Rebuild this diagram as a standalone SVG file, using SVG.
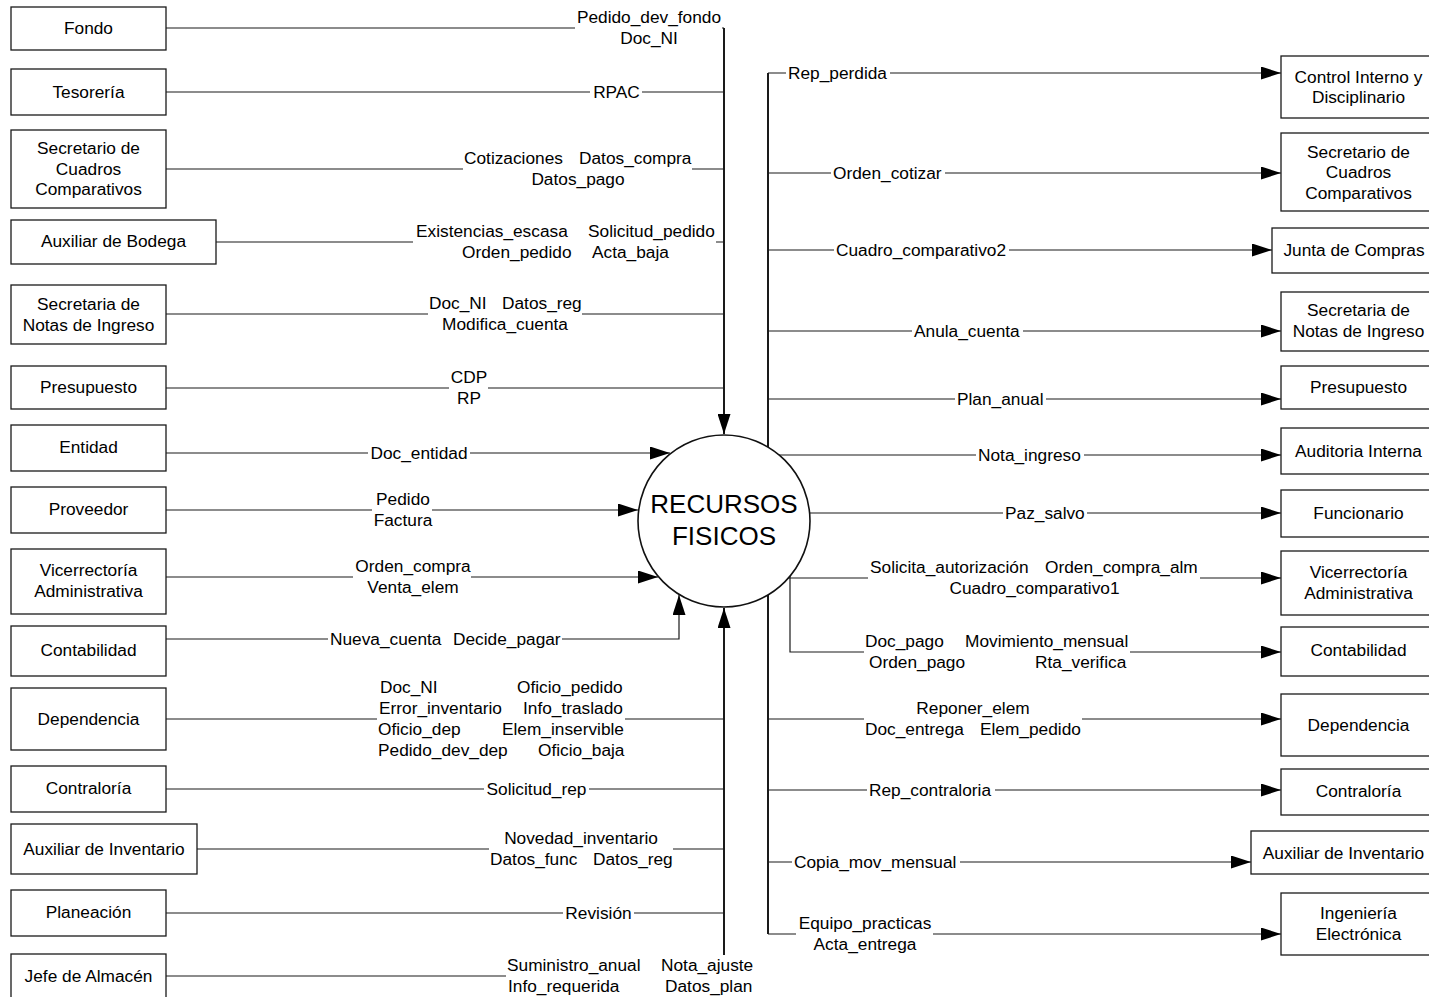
<svg xmlns="http://www.w3.org/2000/svg" width="1429" height="997" viewBox="0 0 1429 997">
<style>
.box{fill:#fff;stroke:#1a1a1a;stroke-width:1.3}
.proc{fill:#fff;stroke:#111;stroke-width:1.6}
.t{font-family:"Liberation Sans",Arial,Helvetica,sans-serif;font-size:17.3px;fill:#000}
.big{font-size:26px}
.m{text-anchor:middle}
.ln{fill:none;stroke:#1a1a1a;stroke-width:1.2}
.bus{stroke-width:2}
.bg{fill:#fff}
</style>
<defs>
<marker id="ah" markerUnits="userSpaceOnUse" markerWidth="20" markerHeight="13" refX="20" refY="6.5" orient="auto">
<path d="M0,0L20,6.5L0,13z" fill="#000"/>
</marker>
</defs>
<rect width="1429" height="997" fill="#fff"/>

<g id="connectors">
<!-- incoming flows, left side -->
<path class="ln" d="M166,28H724"/>
<path class="ln bus" d="M724,28V434" marker-end="url(#ah)"/>
<path class="ln" d="M166,92H724"/>
<path class="ln" d="M166,169H724"/>
<path class="ln" d="M216,242H724"/>
<path class="ln" d="M166,314H724"/>
<path class="ln" d="M166,388H724"/>
<path class="ln" d="M166,453H670" marker-end="url(#ah)"/>
<path class="ln" d="M166,510H638" marker-end="url(#ah)"/>
<path class="ln" d="M166,577H658" marker-end="url(#ah)"/>
<path class="ln" d="M166,639H679V595" marker-end="url(#ah)"/>
<path class="ln" d="M166,719H724"/>
<path class="ln" d="M166,789H724"/>
<path class="ln" d="M197,849H724"/>
<path class="ln" d="M166,913H724"/>
<path class="ln" d="M166,976H724"/>
<path class="ln bus" d="M724,976V608" marker-end="url(#ah)"/>

<!-- outgoing flows, right side -->
<path class="ln bus" d="M768,73V934"/>
<path class="ln" d="M768,73H1281" marker-end="url(#ah)"/>
<path class="ln" d="M768,173H1281" marker-end="url(#ah)"/>
<path class="ln" d="M768,250H1272" marker-end="url(#ah)"/>
<path class="ln" d="M768,331H1281" marker-end="url(#ah)"/>
<path class="ln" d="M768,399H1281" marker-end="url(#ah)"/>
<path class="ln" d="M768,455H1281" marker-end="url(#ah)"/>
<path class="ln" d="M768,513H1281" marker-end="url(#ah)"/>
<path class="ln" d="M780,578H1281" marker-end="url(#ah)"/>
<path class="ln" d="M790,570V652H1281" marker-end="url(#ah)"/>
<path class="ln" d="M768,719H1281" marker-end="url(#ah)"/>
<path class="ln" d="M768,790H1281" marker-end="url(#ah)"/>
<path class="ln" d="M768,862H1251" marker-end="url(#ah)"/>
<path class="ln" d="M768,934H1281" marker-end="url(#ah)"/>

<!-- flow labels, left side -->
<g class="t">
<rect class="bg" x="575" y="7" width="147" height="42"/>
<text class="m" x="649" y="23">Pedido_dev_fondo</text>
<text class="m" x="649" y="44">Doc_NI</text>

<rect class="bg" x="590" y="83" width="52" height="18"/>
<text class="m" x="616.5" y="98">RPAC</text>

<rect class="bg" x="463" y="149" width="229" height="42"/>
<text x="464" y="164">Cotizaciones</text>
<text x="579" y="164">Datos_compra</text>
<text class="m" x="578" y="185">Datos_pago</text>

<rect class="bg" x="413" y="222" width="303" height="41"/>
<text x="416" y="237">Existencias_escasa</text>
<text x="588" y="237">Solicitud_pedido</text>
<text x="462" y="258">Orden_pedido</text>
<text x="592" y="258">Acta_baja</text>

<rect class="bg" x="428" y="294" width="154" height="42"/>
<text x="429" y="309">Doc_NI</text>
<text x="502" y="309">Datos_reg</text>
<text class="m" x="505" y="330">Modifica_cuenta</text>

<rect class="bg" x="449" y="368" width="39" height="41"/>
<text class="m" x="469" y="383">CDP</text>
<text class="m" x="469" y="404">RP</text>

<rect class="bg" x="368" y="444" width="102" height="18"/>
<text class="m" x="419" y="459">Doc_entidad</text>

<rect class="bg" x="372" y="490" width="60" height="41"/>
<text class="m" x="403" y="505">Pedido</text>
<text class="m" x="403" y="526">Factura</text>

<rect class="bg" x="353" y="557" width="118" height="41"/>
<text class="m" x="413" y="572">Orden_compra</text>
<text class="m" x="413" y="593">Venta_elem</text>

<rect class="bg" x="328" y="630" width="234" height="18"/>
<text x="330" y="645">Nueva_cuenta</text>
<text x="453" y="645">Decide_pagar</text>

<rect class="bg" x="377" y="677" width="248" height="83"/>
<text x="380" y="693">Doc_NI</text>
<text x="517" y="693">Oficio_pedido</text>
<text x="379" y="714">Error_inventario</text>
<text x="523" y="714">Info_traslado</text>
<text x="378" y="735">Oficio_dep</text>
<text x="502" y="735">Elem_inservible</text>
<text x="378" y="756">Pedido_dev_dep</text>
<text x="538" y="756">Oficio_baja</text>

<rect class="bg" x="484" y="780" width="105" height="18"/>
<text class="m" x="536.5" y="795">Solicitud_rep</text>

<rect class="bg" x="489" y="829" width="184" height="41"/>
<text class="m" x="581" y="844">Novedad_inventario</text>
<text x="490" y="865">Datos_func</text>
<text x="593" y="865">Datos_reg</text>

<rect class="bg" x="563" y="904" width="71" height="18"/>
<text class="m" x="598.5" y="919">Revisión</text>

<rect class="bg" x="506" y="955" width="249" height="42"/>
<text x="507" y="971">Suministro_anual</text>
<text x="661" y="971">Nota_ajuste</text>
<text x="508" y="992">Info_requerida</text>
<text x="665" y="992">Datos_plan</text>
</g>

<!-- flow labels, right side -->
<g class="t">
<rect class="bg" x="786" y="64" width="104" height="18"/>
<text x="788" y="79">Rep_perdida</text>

<rect class="bg" x="831" y="164" width="114" height="18"/>
<text x="833" y="179">Orden_cotizar</text>

<rect class="bg" x="834" y="241" width="175" height="18"/>
<text x="836" y="256">Cuadro_comparativo2</text>

<rect class="bg" x="912" y="322" width="111" height="18"/>
<text x="914" y="337">Anula_cuenta</text>

<rect class="bg" x="955" y="390" width="91" height="18"/>
<text x="957" y="405">Plan_anual</text>

<rect class="bg" x="976" y="446" width="108" height="18"/>
<text x="978" y="461">Nota_ingreso</text>

<rect class="bg" x="1003" y="504" width="84" height="18"/>
<text x="1005" y="519">Paz_salvo</text>

<rect class="bg" x="868" y="557" width="332" height="42"/>
<text x="870" y="573">Solicita_autorización</text>
<text x="1045" y="573">Orden_compra_alm</text>
<text class="m" x="1034.5" y="594">Cuadro_comparativo1</text>

<rect class="bg" x="864" y="631" width="266" height="42"/>
<text x="865" y="647">Doc_pago</text>
<text x="965" y="647">Movimiento_mensual</text>
<text x="869" y="668">Orden_pago</text>
<text x="1035" y="668">Rta_verifica</text>

<rect class="bg" x="864" y="698" width="218" height="42"/>
<text class="m" x="973" y="714">Reponer_elem</text>
<text x="865" y="735">Doc_entrega</text>
<text x="980" y="735">Elem_pedido</text>

<rect class="bg" x="867" y="781" width="128" height="18"/>
<text x="869" y="796">Rep_contraloria</text>

<rect class="bg" x="792" y="853" width="168" height="18"/>
<text x="794" y="868">Copia_mov_mensual</text>

<rect class="bg" x="796" y="913" width="137" height="42"/>
<text class="m" x="865" y="929">Equipo_practicas</text>
<text class="m" x="865" y="950">Acta_entrega</text>
</g>
</g>

<!-- central process -->
<g id="recursos-fisicos">
<circle class="proc" cx="724" cy="521" r="86"/>
<text class="t big m" x="724" y="513">RECURSOS</text>
<text class="t big m" x="724" y="545">FISICOS</text>
</g>

<!-- external entities, left column -->
<g id="fondo"><rect class="box" x="11" y="7" width="155" height="43"/><text class="t m" x="88.5" y="34">Fondo</text></g>
<g id="tesoreria"><rect class="box" x="11" y="69" width="155" height="46"/><text class="t m" x="88.5" y="98">Tesorería</text></g>
<g id="sec-cuadros-in"><rect class="box" x="11" y="130" width="155" height="78"/><text class="t m" x="88.5" y="154">Secretario de</text><text class="t m" x="88.5" y="175">Cuadros</text><text class="t m" x="88.5" y="195">Comparativos</text></g>
<g id="aux-bodega"><rect class="box" x="11" y="220" width="205" height="44"/><text class="t m" x="113.5" y="247">Auxiliar de Bodega</text></g>
<g id="sec-notas-in"><rect class="box" x="11" y="285" width="155" height="59"/><text class="t m" x="88.5" y="310">Secretaria de</text><text class="t m" x="88.5" y="331">Notas de Ingreso</text></g>
<g id="presupuesto-in"><rect class="box" x="11" y="366" width="155" height="43"/><text class="t m" x="88.5" y="393">Presupuesto</text></g>
<g id="entidad"><rect class="box" x="11" y="425" width="155" height="46"/><text class="t m" x="88.5" y="453">Entidad</text></g>
<g id="proveedor"><rect class="box" x="11" y="487" width="155" height="46"/><text class="t m" x="88.5" y="515">Proveedor</text></g>
<g id="vicerrectoria-in"><rect class="box" x="11" y="549" width="155" height="65"/><text class="t m" x="88.5" y="576">Vicerrectoría</text><text class="t m" x="88.5" y="597">Administrativa</text></g>
<g id="contabilidad-in"><rect class="box" x="11" y="626" width="155" height="50"/><text class="t m" x="88.5" y="656">Contabilidad</text></g>
<g id="dependencia-in"><rect class="box" x="11" y="688" width="155" height="62"/><text class="t m" x="88.5" y="725">Dependencia</text></g>
<g id="contraloria-in"><rect class="box" x="11" y="766" width="155" height="46"/><text class="t m" x="88.5" y="794">Contraloría</text></g>
<g id="aux-inventario-in"><rect class="box" x="11" y="824" width="186" height="50"/><text class="t m" x="104" y="855">Auxiliar de Inventario</text></g>
<g id="planeacion"><rect class="box" x="11" y="890" width="155" height="46"/><text class="t m" x="88.5" y="918">Planeación</text></g>
<g id="jefe-almacen"><rect class="box" x="11" y="954" width="155" height="60"/><text class="t m" x="88.5" y="982">Jefe de Almacén</text></g>

<!-- external entities, right column -->
<g id="control-interno"><rect class="box" x="1281" y="56" width="156" height="62"/><text class="t m" x="1358.5" y="83">Control Interno y</text><text class="t m" x="1358.5" y="103">Disciplinario</text></g>
<g id="sec-cuadros-out"><rect class="box" x="1281" y="133" width="156" height="78"/><text class="t m" x="1358.5" y="158">Secretario de</text><text class="t m" x="1358.5" y="178">Cuadros</text><text class="t m" x="1358.5" y="199">Comparativos</text></g>
<g id="junta-compras"><rect class="box" x="1272" y="228" width="165" height="45"/><text class="t m" x="1354" y="256">Junta de Compras</text></g>
<g id="sec-notas-out"><rect class="box" x="1281" y="292" width="156" height="59"/><text class="t m" x="1358.5" y="316">Secretaria de</text><text class="t m" x="1358.5" y="337">Notas de Ingreso</text></g>
<g id="presupuesto-out"><rect class="box" x="1281" y="366" width="156" height="43"/><text class="t m" x="1358.5" y="393">Presupuesto</text></g>
<g id="auditoria"><rect class="box" x="1281" y="428" width="156" height="46"/><text class="t m" x="1358.5" y="457">Auditoria Interna</text></g>
<g id="funcionario"><rect class="box" x="1281" y="490" width="156" height="47"/><text class="t m" x="1358.5" y="519">Funcionario</text></g>
<g id="vicerrectoria-out"><rect class="box" x="1281" y="551" width="156" height="64"/><text class="t m" x="1358.5" y="578">Vicerrectoría</text><text class="t m" x="1358.5" y="599">Administrativa</text></g>
<g id="contabilidad-out"><rect class="box" x="1281" y="627" width="156" height="49"/><text class="t m" x="1358.5" y="656">Contabilidad</text></g>
<g id="dependencia-out"><rect class="box" x="1281" y="694" width="156" height="62"/><text class="t m" x="1358.5" y="731">Dependencia</text></g>
<g id="contraloria-out"><rect class="box" x="1281" y="769" width="156" height="46"/><text class="t m" x="1358.5" y="797">Contraloría</text></g>
<g id="aux-inventario-out"><rect class="box" x="1251" y="831" width="186" height="43"/><text class="t m" x="1343.5" y="859">Auxiliar de Inventario</text></g>
<g id="ingenieria"><rect class="box" x="1281" y="893" width="156" height="62"/><text class="t m" x="1358.5" y="919">Ingeniería</text><text class="t m" x="1358.5" y="940">Electrónica</text></g>
</svg>
